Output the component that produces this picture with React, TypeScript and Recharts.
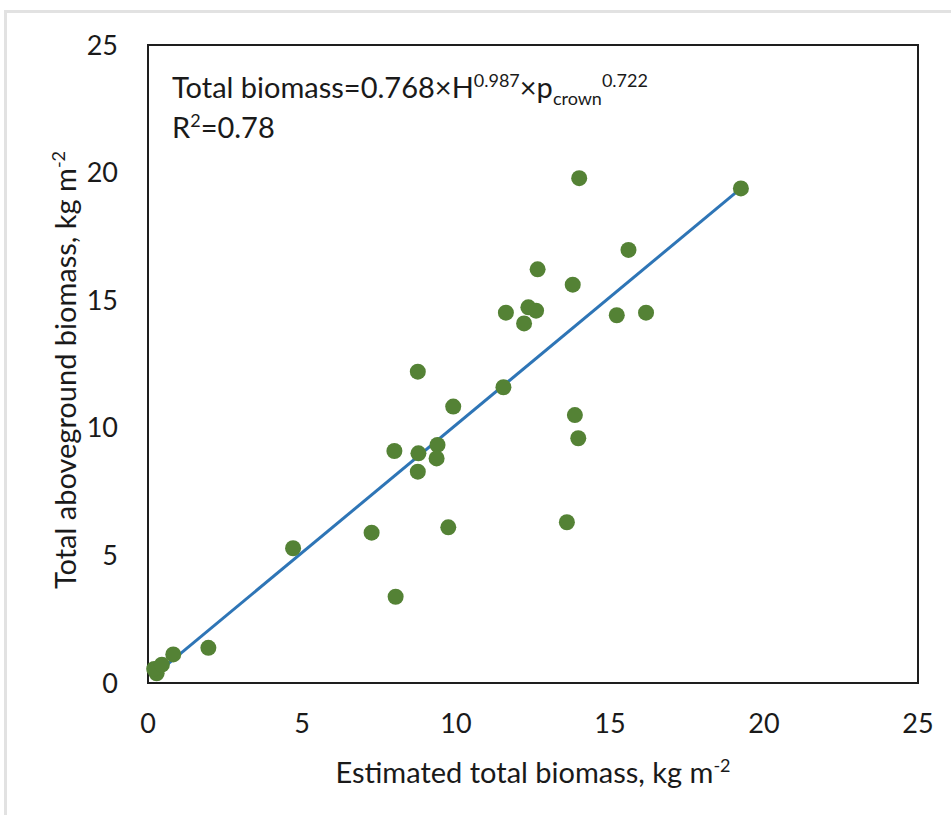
import {
  ScatterChart,
  Scatter,
  XAxis,
  YAxis,
  ReferenceArea,
  ReferenceLine,
} from "recharts";

// estimated total biomass (x) and measured aboveground biomass (y), kg m-2
const estimated = [
  0.28, 0.2, 0.45, 0.82, 1.96, 4.71, 7.26, 8.04, 8.0, 8.78, 8.76, 8.76, 9.4, 9.37, 9.75, 9.91,
  11.54, 11.62, 12.21, 12.35, 12.6, 12.65, 13.6, 13.79, 13.86, 13.97, 14.0, 15.22, 15.6, 16.17,
  19.25,
];
const observed = [
  0.38, 0.55, 0.72, 1.12, 1.38, 5.28, 5.89, 3.38, 9.09, 9.0, 8.28, 12.2, 9.33, 8.8, 6.1, 10.83,
  11.59, 14.51, 14.09, 14.72, 14.59, 16.21, 6.3, 15.61, 10.5, 9.59, 19.78, 14.41, 16.97, 14.51,
  19.38,
];

// fitted line end points
const trendX = [0.28, 19.25];
const trendY = [0.38, 19.38];

const xTicks = [0, 5, 10, 15, 20, 25];
const yTicks = [0, 5, 10, 15, 20, 25];

const points = estimated.map((x, i) => ({ x, y: observed[i] }));

const FONT = "Lato, 'Open Sans', sans-serif";
const tickStyle = { fontSize: 27, fill: "#1a1a1a", fontFamily: FONT };
const sup = { fontSize: 18, verticalAlign: "super", lineHeight: 0 } as const;
const sub = { fontSize: 18, verticalAlign: "sub", lineHeight: 0 } as const;

const Dot = (props: any) => <circle cx={props.cx} cy={props.cy} r={8} fill="#548235" />;

export default function App() {
  return (
    <div
      style={{
        position: "absolute",
        left: 0,
        top: 0,
        width: 951,
        height: 815,
        background: "#fff",
        fontFamily: FONT,
        color: "#1a1a1a",
        overflow: "hidden",
      }}
    >
      <div
        style={{
          position: "absolute",
          left: 4,
          top: 10,
          right: 0,
          bottom: 0,
          borderLeft: "3px solid #e2e2e2",
          borderTop: "3px solid #e2e2e2",
        }}
      />
      <div style={{ position: "absolute", left: 0, top: 0 }}>
        <ScatterChart width={951} height={815} margin={{ top: 45, right: 33, bottom: 62, left: 78 }}>
          <XAxis
            type="number"
            dataKey="x"
            domain={[0, 25]}
            ticks={xTicks}
            height={70}
            tickLine={false}
            axisLine={false}
            tickMargin={25}
            tick={tickStyle}
          />
          <YAxis
            type="number"
            dataKey="y"
            domain={[0, 25]}
            ticks={yTicks}
            width={70}
            tickLine={false}
            axisLine={false}
            tickMargin={24}
            tick={tickStyle}
          />
          <ReferenceArea x1={0} x2={25} y1={0} y2={25} fill="none" fillOpacity={0} stroke="#1e1e1e" strokeWidth={2} />
          <Scatter data={points} shape={Dot} isAnimationActive={false} />
          <ReferenceLine
            segment={[
              { x: trendX[0], y: trendY[0] },
              { x: trendX[1], y: trendY[1] },
            ]}
            stroke="#2e75b6"
            strokeWidth={3}
          />
        </ScatterChart>
      </div>

      {/* equation */}
      <div style={{ position: "absolute", left: 172, top: 67, fontSize: 29, lineHeight: "40px" }}>
        <div>
          Total biomass=0.768×H<span style={sup}>0.987</span>×p
          <span style={sub}>crown</span>
          <span style={sup}>0.722</span>
        </div>
        <div>
          R<span style={sup}>2</span>=0.78
        </div>
      </div>

      {/* x axis title */}
      <div
        style={{
          position: "absolute",
          left: 233,
          width: 600,
          top: 754,
          textAlign: "center",
          fontSize: 29,
          lineHeight: "36px",
        }}
      >
        Estimated total biomass, kg m<span style={sup}>-2</span>
      </div>

      {/* y axis title */}
      <div
        style={{
          position: "absolute",
          left: 65 - 300,
          top: 370 - 18,
          width: 600,
          textAlign: "center",
          fontSize: 29,
          lineHeight: "36px",
          transform: "rotate(-90deg)",
        }}
      >
        Total aboveground biomass, kg m<span style={sup}>-2</span>
      </div>
    </div>
  );
}
